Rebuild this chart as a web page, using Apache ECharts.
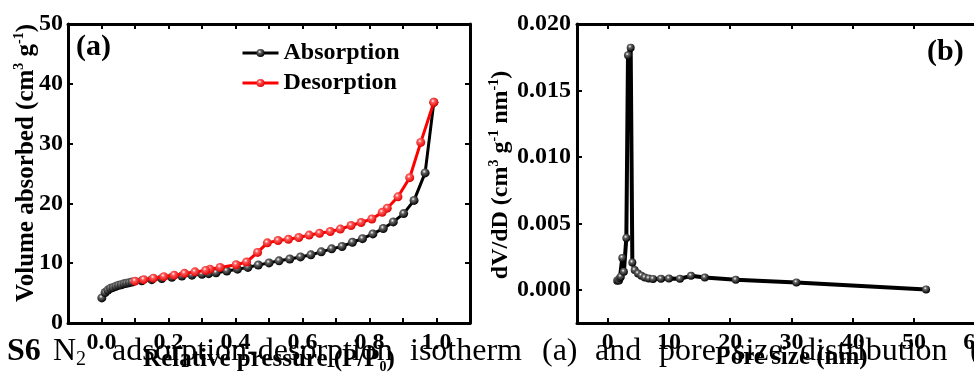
<!DOCTYPE html>
<html><head><meta charset="utf-8">
<script src="https://cdn.jsdelivr.net/npm/echarts@6/dist/echarts.min.js"></script>
<style>html,body{margin:0;padding:0;background:#fff}#c{width:974px;height:378px}</style>
</head><body><div id="c"></div>
<script>
// (a) N2 isotherm
const adsX=[0.001,0.011,0.019,0.027,0.035,0.043,0.051,0.059,0.067,0.075,0.083,0.091,0.12,0.15,0.18,0.21,0.24,0.27,0.30,0.32,0.342,0.374,0.406,0.437,0.468,0.50,0.53,0.562,0.594,0.625,0.656,0.687,0.718,0.749,0.779,0.81,0.841,0.871,0.902,0.933,0.966,0.992];
const adsY=[4.2,5.1,5.5,5.8,5.95,6.15,6.3,6.4,6.55,6.65,6.75,6.85,7.05,7.25,7.45,7.65,7.85,8.0,8.15,8.25,8.4,8.7,9.0,9.3,9.7,10.05,10.4,10.7,11.05,11.4,11.9,12.4,12.8,13.5,14.1,14.9,15.8,16.9,18.3,20.5,25.1,36.9];
const desX=[0.992,0.953,0.92,0.885,0.853,0.838,0.807,0.775,0.745,0.713,0.683,0.651,0.62,0.589,0.558,0.527,0.495,0.466,0.433,0.402,0.354,0.324,0.311,0.279,0.248,0.217,0.186,0.155,0.126,0.100];
const desY=[36.9,30.2,24.3,21.1,19.2,18.5,17.4,16.8,16.3,15.7,15.3,15.0,14.7,14.3,14.0,13.8,13.4,11.8,10.2,9.75,9.3,9.0,8.8,8.55,8.3,8.0,7.75,7.5,7.25,7.0];
// (b) pore size distribution
const poreX=[1.55,1.7,1.85,2.0,2.15,2.39,2.65,3.05,3.32,3.76,4.03,4.41,4.95,5.5,6.05,6.7,7.4,8.7,10.0,11.8,13.6,15.85,20.9,30.8,51.96];
const poreY=[0.00068,0.00074,0.00070,0.00088,0.00098,0.00240,0.00135,0.00390,0.01765,0.01822,0.00205,0.00148,0.00123,0.00106,0.00092,0.00085,0.00082,0.00083,0.00084,0.00083,0.00105,0.00092,0.00075,0.00055,0.00003];
const xTicksB=[0,10,20,30,40,50,60];
const yTicksB=[0,0.005,0.010,0.015,0.020];
const legendNames=['Absorption','Desorption'];

const F='"Liberation Serif","Times New Roman",serif';
const chart=echarts.init(document.getElementById('c'));
function ball(c1,c2){return {type:'radial',x:0.4,y:0.35,r:0.65,colorStops:[{offset:0,color:'#fff'},{offset:0.3,color:c1},{offset:1,color:c2}]};}
const lblStyle={fontFamily:F,fontWeight:'bold',fontSize:24,color:'#000'};
const axLine={onZero:false,lineStyle:{color:'#000',width:3}};
const tick={inside:true,length:5,lineStyle:{color:'#000',width:2}};
function richSet(fs){return {
  n:{font:'bold '+fs+'px '+F,fill:'#000',color:'#000',fontFamily:F,fontWeight:'bold',fontSize:fs,lineHeight:fs+4},
  sup:{font:'bold 14px '+F,fill:'#000',color:'#000',fontFamily:F,fontWeight:'bold',fontSize:14,verticalAlign:'top',lineHeight:fs+4},
  sub:{font:'bold 14px '+F,fill:'#000',color:'#000',fontFamily:F,fontWeight:'bold',fontSize:14,verticalAlign:'bottom',lineHeight:fs+4}};}
const nameStyle={fontFamily:F,fontWeight:'bold',fontSize:25,color:'#000',rich:richSet(25)};
function word(t,x){return {type:'text',left:x,top:336,z:100,style:{text:t,font:'32px '+F,fill:'#000'}};}

chart.setOption({
  animation:false,
  grid:[{left:68,top:24,width:402,height:299,outerBoundsMode:'none',containLabel:false},
        {left:577,top:24,width:429,height:299,outerBoundsMode:'none',containLabel:false}],
  legend:{data:legendNames,orient:'vertical',left:241,top:41,padding:0,itemWidth:36,itemHeight:10,itemGap:6,
    lineStyle:{width:3},
    textStyle:{fontFamily:F,fontWeight:'bold',fontSize:24,color:'#000'}},
  xAxis:[
    {gridIndex:0,type:'value',position:'bottom',min:-0.1,max:1.1,interval:0.1,axisLine:axLine,axisTick:tick,splitLine:{show:false},
     axisLabel:Object.assign({margin:8,formatter:v=>{const k=Math.round(v*10);return (k%2===0&&k>=0&&k<=10)?(k/10).toFixed(1):'';}},lblStyle),
     name:'{n|Relative pressure (P/P}{sub|0}{n|)}',nameLocation:'middle',nameGap:22,nameMoveOverlap:false,nameTextStyle:nameStyle},
    {gridIndex:0,type:'value',position:'top',min:-0.1,max:1.1,interval:0.1,axisLine:axLine,axisTick:tick,splitLine:{show:false},axisLabel:{show:false}},
    {gridIndex:1,type:'value',position:'bottom',min:-5,max:65,axisLine:axLine,splitLine:{show:false},
     axisTick:Object.assign({customValues:xTicksB},tick),
     axisLabel:Object.assign({margin:8,customValues:xTicksB},lblStyle),
     name:'Pore size (nm)',nameLocation:'middle',nameGap:22,nameMoveOverlap:false,nameTextStyle:nameStyle},
    {gridIndex:1,type:'value',position:'top',min:-5,max:65,axisLine:axLine,splitLine:{show:false},
     axisTick:Object.assign({customValues:xTicksB},tick),axisLabel:{show:false}}
  ],
  yAxis:[
    {gridIndex:0,type:'value',position:'left',min:0,max:50,interval:10,axisLine:axLine,axisTick:tick,splitLine:{show:false},
     axisLabel:Object.assign({margin:5},lblStyle)},
    {gridIndex:0,type:'value',position:'right',min:0,max:50,interval:10,axisLine:axLine,axisTick:tick,splitLine:{show:false},axisLabel:{show:false}},
    {gridIndex:1,type:'value',position:'left',min:-0.0025,max:0.02,axisLine:axLine,splitLine:{show:false},
     axisTick:Object.assign({customValues:yTicksB},tick),
     axisLabel:Object.assign({margin:6,customValues:yTicksB,formatter:v=>v.toFixed(3)},lblStyle)},
    {gridIndex:1,type:'value',position:'right',min:-0.0025,max:0.02,axisLine:axLine,splitLine:{show:false},
     axisTick:Object.assign({customValues:yTicksB},tick),axisLabel:{show:false}}
  ],
  series:[
    {name:legendNames[0],type:'line',xAxisIndex:0,yAxisIndex:0,data:adsX.map((x,i)=>[x,adsY[i]]),
     symbol:'circle',symbolSize:9,lineStyle:{color:'#000',width:3},itemStyle:{color:ball('#666','#000')},z:2},
    {name:legendNames[1],type:'line',xAxisIndex:0,yAxisIndex:0,data:desX.map((x,i)=>[x,desY[i]]),
     symbol:'circle',symbolSize:9,lineStyle:{color:'#ff0000',width:3},itemStyle:{color:ball('#ff5a5a','#e00000')},z:3},
    {name:'pore',type:'line',xAxisIndex:2,yAxisIndex:2,data:poreX.map((x,i)=>[x,poreY[i]]),
     symbol:'circle',symbolSize:8,lineStyle:{color:'#000',width:4},itemStyle:{color:ball('#666','#000')},z:2}
  ],
  graphic:[
    {type:'text',x:27,y:163,rotation:Math.PI/2,z:50,style:{text:'{n|Volume absorbed (cm}{sup|3}{n| g}{sup|-1}{n|)}',rich:richSet(25),align:'center',verticalAlign:'middle'}},
    {type:'text',x:501,y:175,rotation:Math.PI/2,z:50,style:{text:'{n|dV/dD (cm}{sup|3}{n| g}{sup|-1}{n| nm}{sup|-1}{n|)}',rich:richSet(24),align:'center',verticalAlign:'middle'}},
    {type:'text',left:76,top:32,style:{text:'(a)',font:'bold 30px '+F,fill:'#000'}},
    {type:'text',left:927,top:37,style:{text:'(b)',font:'bold 30px '+F,fill:'#000'}},
    {type:'text',left:7,top:336,z:100,style:{text:'S6',font:'bold 32px '+F,fill:'#000'}},
    {type:'text',left:53,top:336,z:100,style:{text:'{a|N}{b|2}',rich:{a:{font:'32px '+F,fill:'#000',lineHeight:36},b:{font:'20px '+F,fill:'#000',verticalAlign:'bottom',lineHeight:36}}}},
    word('adsorption-desorption',112),
    word('isotherm',410),
    word('(a)',542),
    word('and',595),
    word('pore',659),
    word('size',733),
    word('distribution',800),
    word('(',970)
  ]
});
</script></body></html>
